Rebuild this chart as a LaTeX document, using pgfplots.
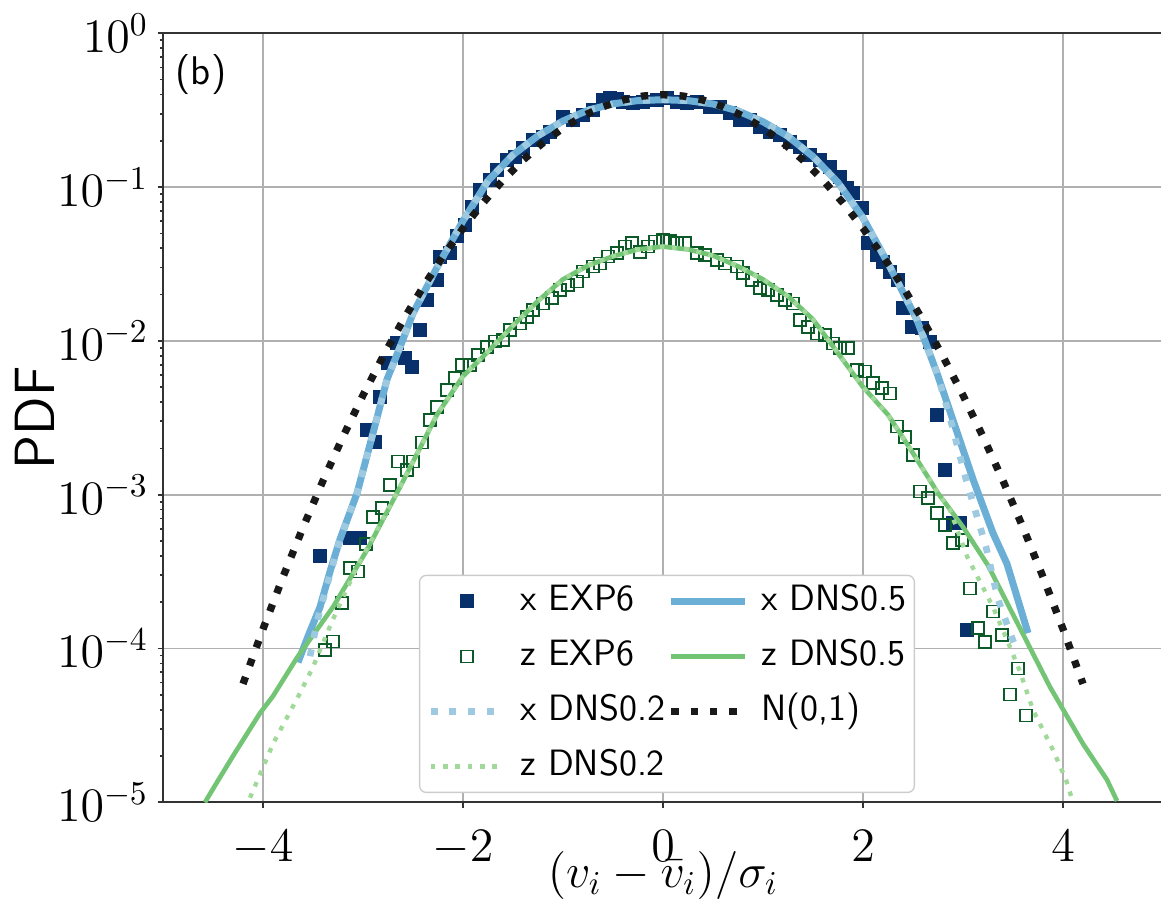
\documentclass[border=0pt]{standalone}
\usepackage{pgfplots}
\pgfplotsset{compat=1.18}
\definecolor{bdark}{HTML}{08306B}
\definecolor{bmid}{HTML}{6BAED6}
\definecolor{blight}{HTML}{9ECAE1}
\definecolor{gdark}{HTML}{0B5A27}
\definecolor{gmid}{HTML}{74C476}
\definecolor{glight}{HTML}{A1D99B}
\definecolor{gridgray}{HTML}{B0B0B0}
\begin{document}
\begin{tikzpicture}
\useasboundingbox (-48.9pt,-28.97pt) rectangle (299.4pt,240.69pt);
\begin{axis}[
  scale only axis, width=300pt, height=230.7pt,
  clip mode=individual,
  xmin=-5, xmax=5, ymode=log, ymin=1e-5, ymax=1,
  xtick={-4,-2,0,2,4},
  ytick={1e-5,1e-4,1e-3,1e-2,1e-1,1},
  xtick pos=left, ytick pos=left,
  tick align=outside,
  major tick length=1.6pt, minor tick length=0.9pt,
  grid=major, major grid style={color=gridgray, line width=0.5pt},
  axis line style={black!80, line width=0.5pt},
  every tick/.style={black!80, line width=0.5pt},
  tick label style={font=\fontsize{14.4}{17}\selectfont},
  yticklabel style={inner sep=0pt, xshift=-2.6pt},
  xticklabel style={inner sep=0pt, yshift=-6.6pt},
  legimg/.style={legend image code/.code={\draw[mark repeat=2,mark phase=2,##1] plot coordinates {(0pt,0pt) (11pt,0pt) (22pt,0pt)};}},
  legend columns=2,
  legend cell align=left,
  legend style={at={(0.504,0.012)}, anchor=south, draw=black!20, rounded corners=2pt, fill=white,
    inner sep=2.3pt, row sep=5.5pt,
    font=\sffamily\fontsize{11}{13.5}\selectfont,
    nodes={inner sep=0pt, text height=8.2pt, text depth=2.8pt},
    /tikz/every odd column/.append style={column sep=4pt},
    /tikz/every even column/.append style={column sep=0.5pt}},
]
\addlegendimage{only marks, mark=square*, mark size=1.9pt, color=bdark, legimg}
\addlegendentry{x EXP6}
\addlegendimage{bmid, line width=2.1pt, legimg}
\addlegendentry{x DNS0.5}
\addlegendimage{only marks, mark=square, mark size=1.8pt, color=gdark, mark options={line width=0.5pt, solid}, legimg}
\addlegendentry{z EXP6}
\addlegendimage{gmid, line width=1.4pt, legimg}
\addlegendentry{z DNS0.5}
\addlegendimage{blight, line width=2pt, dash pattern=on 2.1pt off 3.5pt, legimg}
\addlegendentry{x DNS0.2}
\addlegendimage{black!90, line width=2.2pt, dash pattern=on 2.2pt off 3.6pt, legimg}
\addlegendentry{N(0,1)}
\addlegendimage{glight, line width=1.3pt, dash pattern=on 1.4pt off 2.3pt, legimg}
\addlegendentry{z DNS0.2}

% x EXP6
\addplot[only marks, mark=square*, mark size=1.9pt, color=bdark, forget plot] coordinates {
(-3.43,3.98e-4) (-3.13,5.25e-4) (-3.03,5.25e-4) (-2.96,2.63e-3) (-2.88,2.21e-3)
(-2.83,4.34e-3) (-2.747,7.14e-3) (-2.663,9.64e-3) (-2.58,7.71e-3) (-2.513,6.79e-3)
(-2.43,0.01178) (-2.363,0.01845) (-2.263,0.0249) (-2.23,0.0353) (-2.13,0.0372)
(-2.063,0.0479) (-1.98,0.0568) (-1.91,0.0741) (-1.83,0.0957) (-1.73,0.111)
(-1.663,0.129) (-1.563,0.150) (-1.48,0.158) (-1.397,0.179) (-1.297,0.202)
(-1.197,0.213) (-1.13,0.229) (-1.0,0.287) (-0.9,0.275) (-0.8,0.294)
(-0.697,0.317) (-0.597,0.368) (-0.53,0.378) (-0.46,0.372) (-0.397,0.359)
(-0.297,0.351) (-0.2,0.359) (-0.063,0.368) (0.037,0.378) (0.137,0.359)
(0.237,0.351) (0.337,0.359) (0.47,0.333) (0.57,0.333) (0.67,0.302)
(0.77,0.273) (0.87,0.273) (0.97,0.247) (1.07,0.229) (1.17,0.218)
(1.27,0.197) (1.37,0.183) (1.47,0.162) (1.57,0.150) (1.67,0.136)
(1.77,0.117) (1.837,0.0982) (1.90,0.0912) (1.987,0.0728) (2.053,0.0432)
(2.137,0.0363) (2.20,0.0327) (2.27,0.0282) (2.353,0.0249) (2.403,0.0163)
(2.487,0.01236) (2.587,0.01208) (2.67,9.89e-3) (2.737,3.30e-3) (2.82,1.45e-3)
(2.90,6.52e-4) (2.97,6.52e-4) (3.037,1.32e-4)
};
% z EXP6
\addplot[only marks, mark=square, mark size=1.8pt, color=gdark, mark options={line width=0.5pt, solid}, forget plot] coordinates {
(-3.38,9.77e-5) (-3.297,1.11e-4) (-3.213,1.97e-4) (-3.13,3.33e-4) (-3.047,3.16e-4)
(-2.973,4.79e-4) (-2.897,7.19e-4) (-2.813,8.17e-4) (-2.73,1.156e-3) (-2.647,1.64e-3)
(-2.563,1.445e-3) (-2.497,1.64e-3) (-2.413,2.19e-3) (-2.33,3.06e-3) (-2.263,3.73e-3)
(-2.163,4.80e-3) (-2.08,5.71e-3) (-2.013,6.97e-3) (-1.93,6.97e-3) (-1.847,8.09e-3)
(-1.763,9.16e-3) (-1.68,9.89e-3) (-1.597,0.01014) (-1.53,0.01178) (-1.43,0.0130)
(-1.363,0.01436) (-1.297,0.01589) (-1.197,0.01754) (-1.113,0.01892) (-1.03,0.0214)
(-0.947,0.0231) (-0.863,0.0243) (-0.797,0.0282) (-0.697,0.0304) (-0.63,0.0319)
(-0.547,0.0353) (-0.463,0.0372) (-0.38,0.0410) (-0.313,0.0432) (-0.23,0.0380)
(-0.147,0.0410) (-0.08,0.0442) (0.0,0.0453) (0.07,0.0447) (0.137,0.0432)
(0.22,0.0432) (0.337,0.0372) (0.42,0.0363) (0.537,0.0336) (0.62,0.0319)
(0.737,0.0304) (0.803,0.0275) (0.887,0.0249) (0.97,0.0220) (1.053,0.0214)
(1.137,0.0199) (1.22,0.01845) (1.303,0.01754) (1.37,0.01368) (1.453,0.01236)
(1.537,0.01119) (1.62,0.01091) (1.703,9.64e-3) (1.77,8.95e-3) (1.853,8.95e-3)
(1.937,6.46e-3) (2.02,6.31e-3) (2.103,5.30e-3) (2.187,4.92e-3) (2.27,4.56e-3)
(2.337,2.77e-3) (2.42,2.38e-3) (2.503,1.81e-3) (2.57,1.047e-3) (2.653,9.48e-4)
(2.737,7.59e-4) (2.82,6.35e-4) (2.903,4.83e-4) (2.987,5.07e-4) (3.07,2.46e-4)
(3.153,1.355e-4) (3.22,1.107e-4) (3.303,1.738e-4) (3.387,1.225e-4) (3.47,5.01e-5)
(3.553,7.43e-5) (3.63,3.66e-5)
};
% x DNS0.5
\addplot[bmid, line width=2.1pt, forget plot] coordinates {
(-3.65,8.13e-5) (-3.55,1.20e-4) (-3.43,1.86e-4) (-3.33,3.16e-4) (-3.23,5.13e-4)
(-3.06,1.02e-3) (-2.90,2.51e-3) (-2.76,5.62e-3) (-2.63,9.12e-3) (-2.50,1.51e-2)
(-2.25,3.09e-2) (-2.0,6.03e-2) (-1.75,0.110) (-1.5,0.162) (-1.25,0.216)
(-1.0,0.269) (-0.75,0.316) (-0.5,0.348) (-0.25,0.365) (0,0.370)
(0.25,0.365) (0.5,0.347) (0.75,0.313) (1.0,0.266) (1.25,0.214)
(1.5,0.158) (1.75,0.107) (2.0,0.0631) (2.27,0.0302) (2.54,0.01368)
(2.74,6.17e-3) (2.97,2.24e-3) (3.10,1.26e-3) (3.30,5.62e-4) (3.44,3.55e-4)
(3.65,1.26e-4)
};
% z DNS0.5
\addplot[gmid, line width=1.4pt, forget plot] coordinates {
(-4.58,1.0e-5) (-4.46,1.35e-5) (-4.30,2.0e-5) (-4.03,3.80e-5) (-3.90,4.90e-5)
(-3.66,8.71e-5) (-3.30,1.86e-4) (-2.96,4.37e-4) (-2.63,1.12e-3) (-2.26,3.31e-3)
(-2.0,5.89e-3) (-1.75,8.51e-3) (-1.5,0.01259) (-1.25,0.01820) (-1.0,0.02512)
(-0.75,0.03090) (-0.5,0.03548) (-0.25,0.03936) (0,0.04102) (0.25,0.03936)
(0.5,0.03589) (0.75,0.03055) (1.0,0.02512) (1.25,0.01950) (1.5,0.01380)
(1.75,8.32e-3) (2.0,5.01e-3) (2.25,3.31e-3) (2.5,1.862e-3) (2.75,1.023e-3)
(3.0,6.17e-4) (3.25,3.47e-4) (3.54,1.48e-4)
(3.87,5.62e-5) (4.20,2.40e-5) (4.44,1.40e-5) (4.54,1.02e-5)
};
% x DNS0.2
\addplot[blight, line width=2pt, dash pattern=on 2.1pt off 3.5pt, forget plot] coordinates {
(-3.53,8.91e-5) (-3.45,1.58e-4) (-3.33,3.02e-4) (-3.23,5.13e-4)
(-3.06,1.02e-3) (-2.90,2.51e-3) (-2.76,5.62e-3) (-2.63,9.12e-3) (-2.50,1.51e-2)
(-2.25,3.09e-2) (-2.0,6.03e-2) (-1.75,0.110) (-1.5,0.162) (-1.25,0.216)
(-1.0,0.269) (-0.75,0.316) (-0.5,0.348) (-0.25,0.365) (0,0.370)
(0.25,0.365) (0.5,0.347) (0.75,0.313) (1.0,0.266) (1.25,0.214)
(1.5,0.158) (1.75,0.107) (2.0,0.0631) (2.27,0.0302) (2.54,0.01368)
(2.74,6.17e-3) (2.87,3.16e-3) (3.03,1.26e-3) (3.23,4.57e-4) (3.35,2.09e-4)
(3.49,1.17e-4) (3.55,9.33e-5)
};
% z DNS0.2
\addplot[glight, line width=1.3pt, dash pattern=on 1.4pt off 2.3pt, forget plot] coordinates {
(-4.13,1.07e-5) (-3.90,2.40e-5) (-3.63,5.13e-5) (-3.50,7.59e-5) (-3.30,1.55e-4)
(-3.06,3.39e-4) (-2.63,1.12e-3) (-2.26,3.31e-3)
(-2.0,5.89e-3) (-1.75,8.51e-3) (-1.5,0.01259) (-1.25,0.01820) (-1.0,0.02512)
(-0.75,0.03090) (-0.5,0.03548) (-0.25,0.03936) (0,0.04102) (0.25,0.03936)
(0.5,0.03589) (0.75,0.03055) (1.0,0.02512) (1.25,0.01950) (1.5,0.01380)
(1.75,8.32e-3) (2.0,5.01e-3) (2.25,3.31e-3) (2.5,1.862e-3) (2.75,1.023e-3)
(2.87,7.94e-4) (3.04,3.98e-4) (3.30,1.86e-4)
(3.47,1.02e-4) (3.57,7.08e-5) (3.70,3.98e-5) (3.90,2.19e-5) (4.03,1.40e-5)
(4.10,1.0e-5)
};
% N(0,1)
\addplot[black!90, line width=2.2pt, dash pattern=on 2.2pt off 3.6pt, forget plot] coordinates {
(-4.2,5.89e-5) (-4.0,1.338e-4) (-3.8,2.919e-4) (-3.6,6.119e-4) (-3.4,1.2322e-3)
(-3.2,2.3841e-3) (-3.0,4.4318e-3) (-2.8,7.9155e-3) (-2.6,1.3583e-2) (-2.4,2.23945e-2)
(-2.2,3.54746e-2) (-2.0,5.3991e-2) (-1.8,7.89502e-2) (-1.6,0.1109208) (-1.4,0.1497275)
(-1.2,0.1941861) (-1.0,0.2419707) (-0.8,0.2896916) (-0.6,0.3332246) (-0.4,0.3682701)
(-0.2,0.3910427) (0,0.3989423) (0.2,0.3910427) (0.4,0.3682701) (0.6,0.3332246)
(0.8,0.2896916) (1.0,0.2419707) (1.2,0.1941861) (1.4,0.1497275) (1.6,0.1109208)
(1.8,7.89502e-2) (2.0,5.3991e-2) (2.2,3.54746e-2) (2.4,2.23945e-2) (2.6,1.3583e-2)
(2.8,7.9155e-3) (3.0,4.4318e-3) (3.2,2.3841e-3) (3.4,1.2322e-3) (3.6,6.119e-4)
(3.8,2.919e-4) (4.0,1.338e-4) (4.2,5.89e-5)
};
\node[font=\sffamily\fontsize{12}{15}\selectfont, anchor=center] at (axis description cs:0.038,0.947) {(b)};
\node[font=\fontsize{14.4}{17}\selectfont, anchor=center] at (axis description cs:0.5,-0.0955) {$(v_i-\bar{v}_i)/\sigma_i$};
\node[font=\sffamily\fontsize{17}{20}\selectfont, anchor=center, rotate=90] at (axis description cs:-0.128,0.5) {PDF};
\end{axis}
\end{tikzpicture}
\end{document}
